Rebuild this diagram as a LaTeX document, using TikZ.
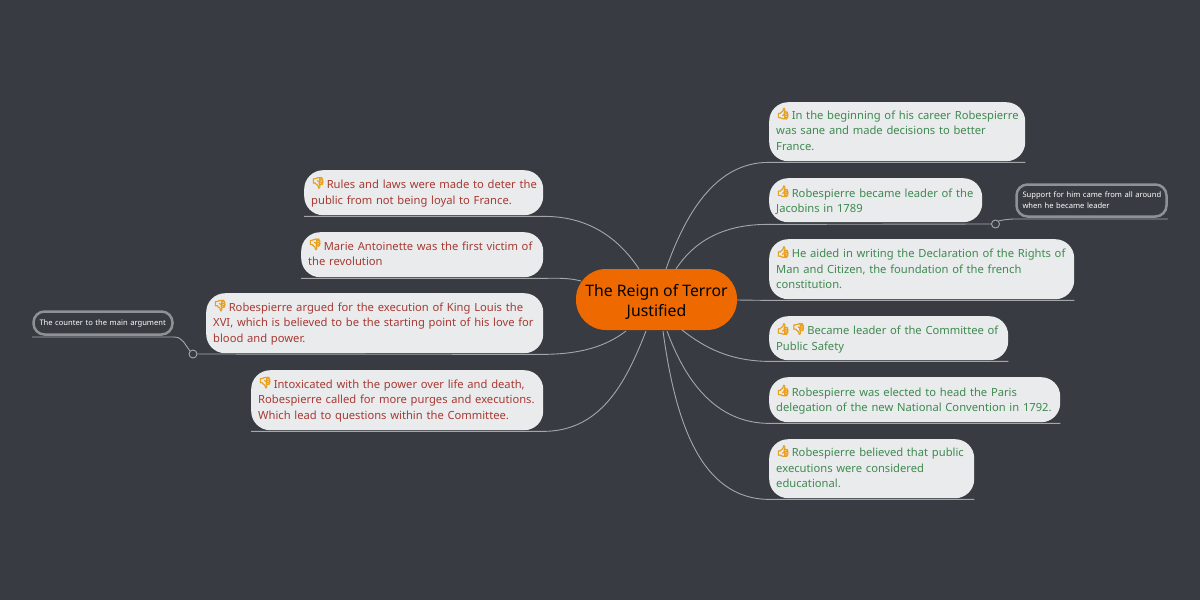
\documentclass[tikz,border=0pt]{standalone}
\usepackage{fontspec}
\setmainfont{Noto Sans}
\newfontfamily\emojifont[FakeBold=6]{Noto Emoji}
\definecolor{bgc}{HTML}{383B41}
\definecolor{boxc}{HTML}{E9EBED}
\definecolor{greenc}{HTML}{3F8A50}
\definecolor{redc}{HTML}{A83A33}
\definecolor{centerc}{HTML}{EE6A00}
\definecolor{linec}{HTML}{A4A7AA}
\definecolor{ringc}{HTML}{8F9294}
\definecolor{emojic}{HTML}{E8A020}
\newcommand{\up}{\raisebox{2pt}{\fontsize{11}{12}\emojifont\textcolor{emojic}{👍}}\hspace{1.6pt}}
\newcommand{\down}{\raisebox{2pt}{\fontsize{11}{12}\emojifont\textcolor{emojic}{👎}}\hspace{1.6pt}}
\newcommand{\tl}[1]{\mbox{#1}}
\newcommand{\lift}[1]{\rule[-#1pt]{0pt}{0pt}}
\tikzset{
 x=1pt,y=-1pt,
 topic/.style={fill=boxc,rounded corners=19pt,inner sep=0pt,anchor=north west,align=left,
   font=\fontsize{11.2}{15.5}\selectfont},
 pro/.style={topic,text=greenc},
 con/.style={topic,text=redc},
 central/.style={fill=centerc,rounded corners=30pt,inner sep=0pt,align=center,
   text=black,font=\fontsize{15.8}{20}\selectfont,minimum width=161pt,minimum height=61pt},
 note/.style={draw=ringc,line width=2.5pt,rounded corners=11pt,inner sep=0pt,align=left,text=white,
   font=\fontsize{7.6}{11}\selectfont},
 link/.style={draw=linec,line width=0.9pt},
 ring/.style={circle,draw=linec,line width=0.9pt,minimum size=8pt,inner sep=0pt},
}
\begin{document}
\begin{tikzpicture}
\useasboundingbox[fill=bgc] (0,0) rectangle (1200,600);
% topics
\node[pro,minimum width=256pt,minimum height=59pt,text width=242pt] (r1) at (769,102) {\tl{\up In the beginning of his career Robespierre}\\\tl{was sane and made decisions to better}\\\tl{France.\lift{5}}};
\node[pro,minimum width=213pt,minimum height=44pt,text width=199pt] (r2) at (769,178) {\tl{\up Robespierre became leader of the}\\\tl{Jacobins in 1789}};
\node[pro,minimum width=305pt,minimum height=60pt,text width=291pt] (r3) at (769,239) {\tl{\up He aided in writing the Declaration of the Rights of}\\\tl{Man and Citizen, the foundation of the french}\\\tl{constitution.\lift{3}}};
\node[pro,minimum width=239pt,minimum height=44pt,text width=225pt] (r4) at (769,316) {\tl{\up\down Became leader of the Committee of}\\\tl{Public Safety}};
\node[pro,minimum width=291pt,minimum height=45pt,text width=277pt] (r5) at (769,377) {\tl{\up Robespierre was elected to head the Paris}\\\tl{delegation of the new National Convention in 1792.}};
\node[pro,minimum width=205pt,minimum height=59pt,text width=191pt] (r6) at (769,439) {\tl{\up Robespierre believed that public}\\\tl{executions were considered}\\\tl{educational.\lift{4}}};
\node[con,minimum width=239pt,minimum height=45pt,text width=225pt] (l1) at (304,170) {\tl{\down Rules and laws were made to deter the}\\\tl{public from not being loyal to France.\lift{4}}};
\node[con,minimum width=242pt,minimum height=45pt,text width=228pt] (l2) at (301,232) {\tl{\down Marie Antoinette was the first victim of}\\\tl{the revolution\lift{5}}};
\node[con,minimum width=337pt,minimum height=60pt,text width=323pt] (l3) at (206,293) {\tl{\down Robespierre argued for the execution of King Louis the}\\\tl{XVI, which is believed to be the starting point of his love for}\\\tl{blood and power.\lift{4}}};
\node[con,minimum width=292pt,minimum height=60pt,text width=278pt] (l4) at (251,370) {\tl{\down Intoxicated with the power over life and death,}\\\tl{Robespierre called for more purges and executions.}\\\tl{Which lead to questions within the Committee.\lift{4}}};
\node[central] (c) at (656.5,299.5) {\rule{0pt}{17.5pt}The Reign of Terror\\Justified};
% notes
\node[note,minimum width=150pt,minimum height=32pt,text width=138pt] (nr) at (1091.5,200.5) {\tl{Support for him came from all around}\\\tl{when he became leader}};
\node[note,minimum width=139pt,minimum height=23pt,text width=127pt] (nl) at (103,323) {\tl{\rule{0pt}{7.5pt}The counter to the main argument}};
\node[ring] (kr) at (995.5,224) {};
\node[ring] (kl) at (193,354) {};
% anchor points on the central topic
\coordinate (c1) at (666,269);
\coordinate (c2) at (676,269);
\coordinate (c3) at (737,300);
\coordinate (c4) at (682,330);
\coordinate (c5) at (667,331);
\coordinate (c6) at (663,331);
\coordinate (d1) at (639,269);
\coordinate (d2) at (581,281);
\coordinate (d3) at (626,331);
\coordinate (d4) at (646,331);
\coordinate (er) at (1168,219);
\coordinate (el) at (32,337);
% connectors
\path[link] ([yshift=-1pt]r1.south east) -- ([yshift=-1pt]r1.south west) .. controls (715,162) and (685,215) .. (c1);
\path[link] (kr.west) -- ([yshift=-2pt]r2.south west) .. controls (725,224) and (695,240) .. (c2);
\path[link] ([yshift=-1pt]r3.south east) -- ([yshift=-1pt]r3.south west) -- (c3);
\path[link] ([yshift=-1pt]r4.south east) -- ([yshift=-1pt]r4.south west) .. controls (730,361) and (705,348) .. (c4);
\path[link] ([yshift=-1pt]r5.south east) -- ([yshift=-1pt]r5.south west) .. controls (715,423) and (685,380) .. (c5);
\path[link] ([yshift=-1pt]r6.south east) -- ([yshift=-1pt]r6.south west) .. controls (700,499) and (675,420) .. (c6);
\path[link] ([yshift=-1pt]l1.south west) -- ([yshift=-1pt]l1.south east) .. controls (590,216) and (620,240) .. (d1);
\path[link] ([yshift=-1pt]l2.south west) -- ([yshift=-1pt]l2.south east) .. controls (558,278) and (570,278) .. (d2);
\path[link] (kl.east) -- ([yshift=-1pt]l3.south east) .. controls (580,354) and (605,347) .. (d3);
\path[link] ([yshift=-1pt]l4.south west) -- ([yshift=-1pt]l4.south east) .. controls (600,431) and (625,385) .. (d4);
\path[link] (kr.north east) .. controls (1003,220) and (1008,219) .. (1016,219) -- (er);
\path[link] (kl.north west) .. controls (185,345) and (183,337) .. (174,337) -- (el);
\end{tikzpicture}
\end{document}
